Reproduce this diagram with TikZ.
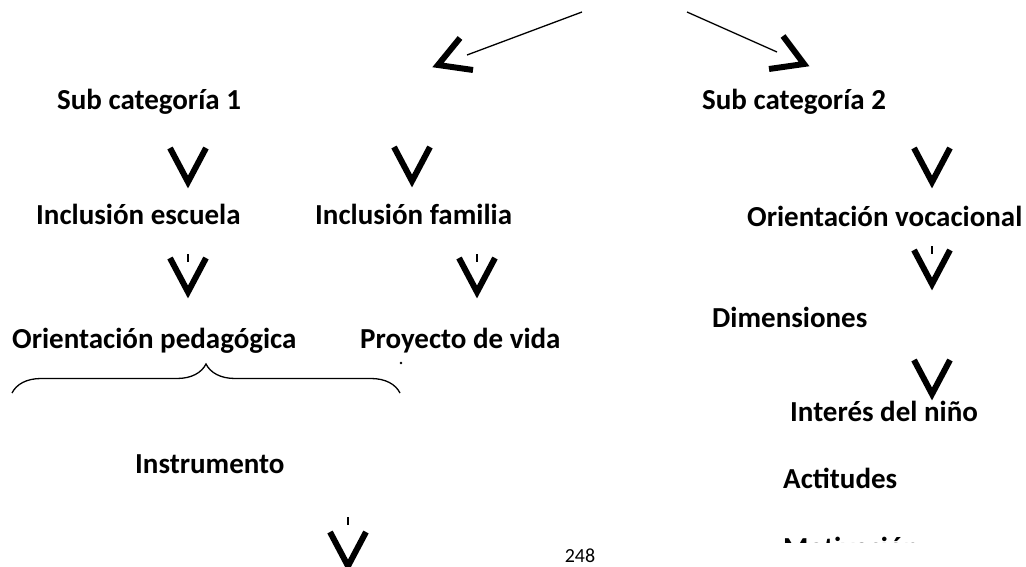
\documentclass[tikz,border=0pt]{standalone}
\usepackage{fontspec}
\setmainfont{Carlito}
\usepackage{tikz}
\usetikzlibrary{calc,decorations.pathreplacing}
\tikzstyle{cat}=[anchor=base west, inner sep=0pt,% bold labels
font=\fontsize{29}{35}\selectfont\bfseries]
\tikzstyle{chev}=[line width=6pt, line join=miter, line cap=butt]
\tikzstyle{lnk}=[line width=1.3pt]
\tikzstyle{tick}=[line width=1.3pt]

\begin{document}
\begin{tikzpicture}[x=1pt,y=-1pt]
\useasboundingbox (0,0) rectangle (1026,567);
% labels
\node[cat] (sc1) at (57,110) {Sub categoría 1};
\node[cat] (sc2) at (702,110) {Sub categoría 2};
\node[cat] (ie) at (36,224) {Inclusión escuela};
\node[cat] (if) at (315,224) {Inclusión familia};
\node[cat] (ov) at (747,226) {Orientación vocacional};
\node[cat] (dim) at (712,327) {Dimensiones};
\node[cat] (pe) at (12,348) {Orientación pedagógica};
\node[cat] (pv) at (360,348) {Proyecto de vida};
\node[cat] (int) at (790,421) {Interés del niño};
\node[cat] (ins) at (135,473) {Instrumento};
\node[cat] (act) at (783,488) {Actitudes};
\begin{scope}
\clip (700,0) rectangle (1026,542);
\node[cat] (mot) at (783,557) {Motivación};
\end{scope}
\node[anchor=base, inner sep=0pt, font=\fontsize{20}{24}\selectfont] (pg) at (580,562) {248};
% top links
\coordinate (t1) at (582,12);
\coordinate (e1) at (467,55);
\coordinate (t2) at (687,12);
\coordinate (e2) at (777,52);
\draw[lnk] (t1) -- (e1);
\draw[lnk] (t2) -- (e2);
\coordinate (a1) at (438,65);
\coordinate (a2) at (804,64);
\draw[chev] (a1) ++(22,-27) -- (a1) -- ++(35,5);
\draw[chev] (a2) ++(-21,-28) -- (a2) -- ++(-35,5);
% chevrons
\coordinate (v1) at (188,182);
\coordinate (v2) at (412,181);
\coordinate (v3) at (188,292);
\coordinate (v4) at (477,292);
\coordinate (v5) at (932,182);
\coordinate (v6) at (932,284);
\coordinate (v7) at (932,394);
\coordinate (v8) at (348,566);
\foreach \v in {v1,v2,v3,v4,v5,v6,v7,v8}
  \draw[chev] (\v) ++(-18,-34) -- (\v) -- ++(18,-34);
% small ticks
\coordinate (k1) at (188,254);
\coordinate (k2) at (477,254);
\coordinate (k3) at (932,246);
\coordinate (k4) at (348,517);
\foreach \k in {k1,k2,k3,k4}
  \draw[tick] (\k) -- ++(0,8);
% brace
\coordinate (b1) at (12,393);
\coordinate (b2) at (400,393);
\draw[lnk, decorate, decoration={brace, amplitude=29pt}] (b1) -- (b2);
\fill (401,363) circle (1.3);
\end{tikzpicture}
\end{document}
